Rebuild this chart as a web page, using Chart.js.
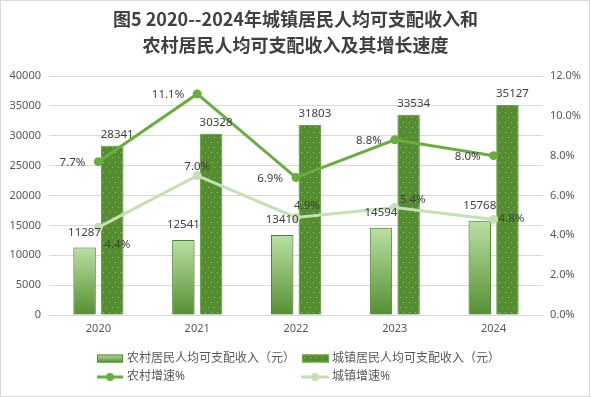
<!DOCTYPE html>
<html>
<head>
<meta charset="utf-8">
<script src="https://cdn.jsdelivr.net/npm/chart.js@4.4.0/dist/chart.umd.min.js"></script>
<style>
    html, body { margin: 0; padding: 0; background: #fff; }
    #chart { display: block; }
</style>
</head>
<body>
<canvas id="chart" width="591" height="397"></canvas>
<script>
// data
var years = ['2020', '2021', '2022', '2023', '2024'];
var ruralIncome = [11287, 12541, 13410, 14594, 15768];
var urbanIncome = [28341, 30328, 31803, 33534, 35127];
var ruralGrowth = [7.7, 11.1, 6.9, 8.8, 8.0];
var urbanGrowth = [4.4, 7.0, 4.9, 5.4, 4.8];
var seriesNames = ['农村居民人均可支配收入（元）', '城镇居民人均可支配收入（元）', '农村增速%', '城镇增速%'];
var titleLines = ['图5 2020--2024年城镇居民人均可支配收入和', '农村居民人均可支配收入及其增长速度'];

var FONT = '"Noto Sans", "Noto Sans CJK SC", sans-serif';
var AXIS_COLOR = '#595959';
var LABEL_COLOR = '#404040';
var GRID_COLOR = '#d9d9d9';
var RURAL_LINE = '#6aad3f';
var URBAN_LINE = '#c5e0b4';

var canvas = document.getElementById('chart');
var ctx = canvas.getContext('2d');

// dotted fill for the urban bars
function dotPattern() {
    var c = document.createElement('canvas');
    c.width = 6;
    c.height = 10;
    var p = c.getContext('2d');
    p.fillStyle = '#548c30';
    p.fillRect(0, 0, 6, 10);
    p.fillStyle = '#94c774';
    p.fillRect(1, 2, 1, 1);
    p.fillRect(4, 7, 1, 1);
    return ctx.createPattern(c, 'repeat');
}

function barGradient(top, bottom) {
    var g = ctx.createLinearGradient(0, top, 0, bottom);
    g.addColorStop(0, '#bbdfa4');
    g.addColorStop(1, '#558f30');
    return g;
}

// light-to-dark gradient for each rural bar
function ruralFill(context) {
    var chart = context.chart;
    if (context.type !== 'data' || !chart.scales || !chart.scales.y) {
        return '#8cbd6a';
    }
    var y = chart.scales.y;
    var top = y.getPixelForValue(context.raw);
    var bottom = y.getPixelForValue(0);
    if (!isFinite(top) || !isFinite(bottom) || top === bottom) {
        return '#8cbd6a';
    }
    return barGradient(top, bottom);
}

// where the urban growth labels sit relative to their points
var urbanLabelPlace = [
    { dx: 6, dy: 17, align: 'left' },
    { dx: 0, dy: -9, align: 'center' },
    { dx: -2, dy: -12, align: 'left' },
    { dx: 5, dy: -8, align: 'left' },
    { dx: 5, dy: -1, align: 'left' }
];

var frame = {
    id: 'frame',
    beforeDraw: function (chart) {
        var c = chart.ctx;
        c.save();
        c.fillStyle = '#fff';
        c.fillRect(0, 0, chart.width, chart.height);
        c.strokeStyle = GRID_COLOR;
        c.lineWidth = 1;
        c.strokeRect(0.5, 0.5, chart.width - 2, chart.height - 1);
        c.restore();
    },
    beforeDatasetDraw: function (chart, args) {
        if (args.meta.type === 'bar') {
            chart.ctx.save();
            chart.ctx.shadowColor = 'rgba(0,0,0,0.25)';
            chart.ctx.shadowBlur = 4;
        }
    },
    afterDatasetDraw: function (chart, args) {
        if (args.meta.type === 'bar') {
            chart.ctx.restore();
        }
    },
    afterDraw: function (chart) {
        var c = chart.ctx;
        c.save();

        // title
        c.fillStyle = '#404040';
        c.font = 'bold 18px "Noto Sans CJK SC", sans-serif';
        c.textAlign = 'center';
        c.textBaseline = 'middle';
        c.fillText(titleLines[0], 295.5, 19.5);
        c.fillText(titleLines[1], 295.5, 45.5);

        // data labels
        c.font = '11.5px ' + FONT;
        c.fillStyle = LABEL_COLOR;
        chart.getDatasetMeta(0).data.forEach(function (el, i) {
            c.textAlign = 'center';
            c.fillText(ruralIncome[i], el.x, el.y - 15);
        });
        chart.getDatasetMeta(1).data.forEach(function (el, i) {
            c.textAlign = 'center';
            c.fillText(urbanIncome[i], el.x + 5, el.y - 11);
        });
        chart.getDatasetMeta(2).data.forEach(function (el, i) {
            c.textAlign = 'right';
            c.fillText(ruralGrowth[i].toFixed(1) + '%', el.x - 13, el.y + 1);
        });
        chart.getDatasetMeta(3).data.forEach(function (el, i) {
            var p = urbanLabelPlace[i];
            c.textAlign = p.align;
            c.fillText(urbanGrowth[i].toFixed(1) + '%', el.x + p.dx, el.y + p.dy);
        });

        // legend
        c.font = '12px ' + FONT;
        c.textAlign = 'left';
        var rowA = 358.5, rowB = 377;

        c.fillStyle = barGradient(rowA - 4, rowA + 4);
        c.fillRect(97, rowA - 4, 26, 8);
        c.strokeStyle = '#558f30';
        c.lineWidth = 1;
        c.strokeRect(97.5, rowA - 3.5, 25, 7);

        c.fillStyle = dotPattern();
        c.fillRect(302, rowA - 4, 27, 8);
        c.strokeStyle = '#70ad47';
        c.strokeRect(302.5, rowA - 3.5, 26, 7);

        function lineKey(x0, x1, y, color) {
            c.strokeStyle = color;
            c.lineWidth = 3;
            c.beginPath();
            c.moveTo(x0, y);
            c.lineTo(x1, y);
            c.stroke();
            c.fillStyle = color;
            c.beginPath();
            c.arc((x0 + x1) / 2, y, 4, 0, Math.PI * 2);
            c.fill();
        }
        lineKey(97, 123, rowB, RURAL_LINE);
        lineKey(301, 329, rowB, URBAN_LINE);

        c.fillStyle = AXIS_COLOR;
        c.fillText(seriesNames[0], 127, rowA);
        c.fillText(seriesNames[1], 332, rowA);
        c.fillText(seriesNames[2], 127, rowB);
        c.fillText(seriesNames[3], 332, rowB);

        c.restore();
    }
};

var chart = new Chart(canvas, {
    type: 'bar',
    data: {
        labels: years,
        datasets: [{
            label: seriesNames[0],
            data: ruralIncome,
            backgroundColor: ruralFill,
            borderColor: '#558f30',
            borderWidth: 1,
            yAxisID: 'y',
            order: 2
        }, {
            label: seriesNames[1],
            data: urbanIncome,
            backgroundColor: dotPattern(),
            borderColor: '#76b44e',
            borderWidth: 1,
            yAxisID: 'y',
            order: 2
        }, {
            type: 'line',
            label: seriesNames[2],
            data: ruralGrowth,
            borderColor: RURAL_LINE,
            backgroundColor: RURAL_LINE,
            borderWidth: 3,
            pointRadius: 4.5,
            pointBorderWidth: 0,
            tension: 0,
            yAxisID: 'y1',
            order: 1
        }, {
            type: 'line',
            label: seriesNames[3],
            data: urbanGrowth,
            borderColor: URBAN_LINE,
            backgroundColor: URBAN_LINE,
            borderWidth: 3,
            pointRadius: 4.5,
            pointBorderWidth: 0,
            tension: 0,
            yAxisID: 'y1',
            order: 1
        }]
    },
    options: {
        responsive: false,
        animation: false,
        devicePixelRatio: 1,
        categoryPercentage: 0.56,
        barPercentage: 0.81,
        layout: {
            padding: { top: 76, bottom: 60, left: 0, right: 0 }
        },
        plugins: {
            legend: { display: false },
            title: { display: false },
            tooltip: { enabled: false }
        },
        scales: {
            x: {
                grid: { display: false, drawTicks: false },
                border: { display: true, color: GRID_COLOR },
                ticks: { color: AXIS_COLOR, font: { size: 11, family: FONT }, padding: 7 },
                afterFit: function (s) { s.height = 22; }
            },
            y: {
                position: 'left',
                min: 0,
                max: 40000,
                ticks: {
                    stepSize: 5000,
                    color: AXIS_COLOR,
                    font: { size: 11, family: FONT },
                    padding: 8,
                    callback: function (v) { return String(v); }
                },
                grid: { color: GRID_COLOR, drawTicks: false },
                border: { display: false },
                afterFit: function (s) { s.width = 49; }
            },
            y1: {
                position: 'right',
                min: 0,
                max: 12,
                ticks: {
                    stepSize: 2,
                    color: AXIS_COLOR,
                    font: { size: 11, family: FONT },
                    padding: 7,
                    callback: function (v) { return v.toFixed(1) + '%'; }
                },
                grid: { drawOnChartArea: false, drawTicks: false },
                border: { display: false },
                afterFit: function (s) { s.width = 48; }
            }
        }
    },
    plugins: [frame]
});
</script>
</body>
</html>
